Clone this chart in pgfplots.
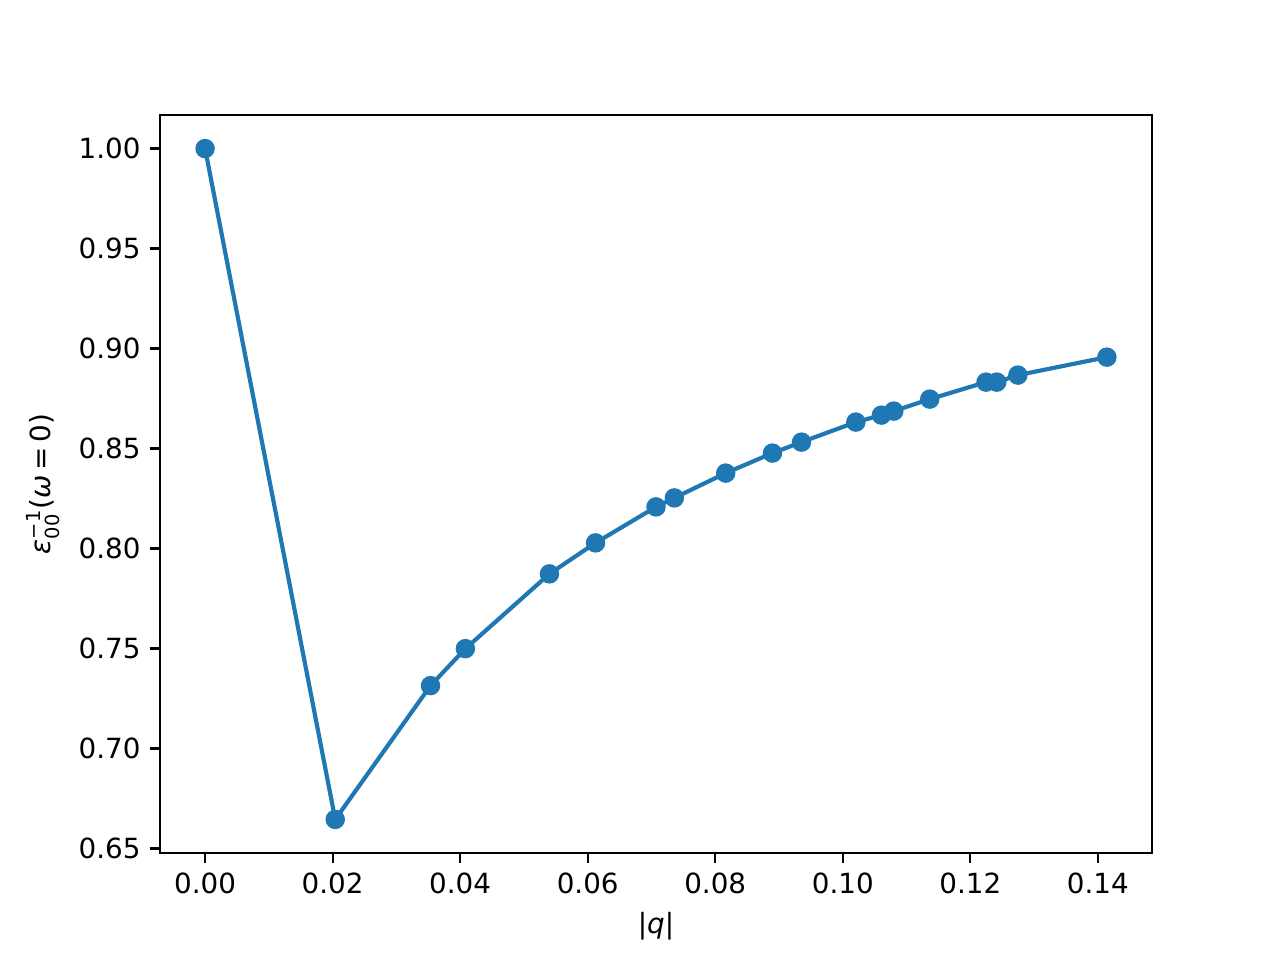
\documentclass[border=0pt]{standalone}
\usepackage{fontspec}
\setmainfont{DejaVu Sans}
\usepackage{pgfplots}
\pgfplotsset{compat=1.18}
\definecolor{tabblue}{HTML}{1F77B4}
\begin{document}
\begin{tikzpicture}
% figure 6.4in x 4.8in, axes box as in matplotlib defaults
\useasboundingbox (-57.6pt,-38.52pt) rectangle (403.2pt,307.08pt);
\begin{axis}[
  scale only axis, width=357.12pt, height=265.68pt,
  at={(0pt,0pt)}, anchor=south west,
  xmin=-0.00707, xmax=0.14849, ymin=0.6477, ymax=1.0168,
  xtick={0,0.02,0.04,0.06,0.08,0.10,0.12,0.14},
  ytick={0.65,0.70,0.75,0.80,0.85,0.90,0.95,1.00},
  scaled ticks=false,
  xticklabel style={/pgf/number format/.cd,fixed,fixed zerofill,precision=2},
  yticklabel style={/pgf/number format/.cd,fixed,fixed zerofill,precision=2},
  /pgf/number format/assume math mode=true,
  tick label style={font=\fontsize{10}{12}\selectfont},
  label style={font=\fontsize{10}{12}\selectfont},
  tick align=outside, tick pos=left,
  major tick length=3.5pt,
  every tick/.style={black, line width=0.8pt},
  axis line style={line width=0.8pt},
  xlabel={|\textit{q}|},
  ylabel={\textit{ε}$^{\mbox{\fontsize{7}{7}\selectfont −1}}_{\mbox{\fontsize{7}{7}\selectfont 00}}$(\textit{ω}\,=\,0)},
]
\addplot[color=tabblue, line width=1.5pt, mark=*, mark size=3pt,
  mark options={fill=tabblue, draw=tabblue, line width=1pt, solid}]
coordinates {
(0.00000,1.0000) (0.02041,0.6645) (0.03535,0.7314) (0.04082,0.7499)
(0.05400,0.7873) (0.06123,0.8028) (0.07071,0.8208) (0.07359,0.8253)
(0.08164,0.8377) (0.08897,0.8477) (0.09353,0.8532) (0.10205,0.8632)
(0.10606,0.8667) (0.10800,0.8687) (0.11364,0.8747) (0.12246,0.8832)
(0.12415,0.8832) (0.12746,0.8867) (0.14142,0.8957)
};
\end{axis}
\end{tikzpicture}
\end{document}
